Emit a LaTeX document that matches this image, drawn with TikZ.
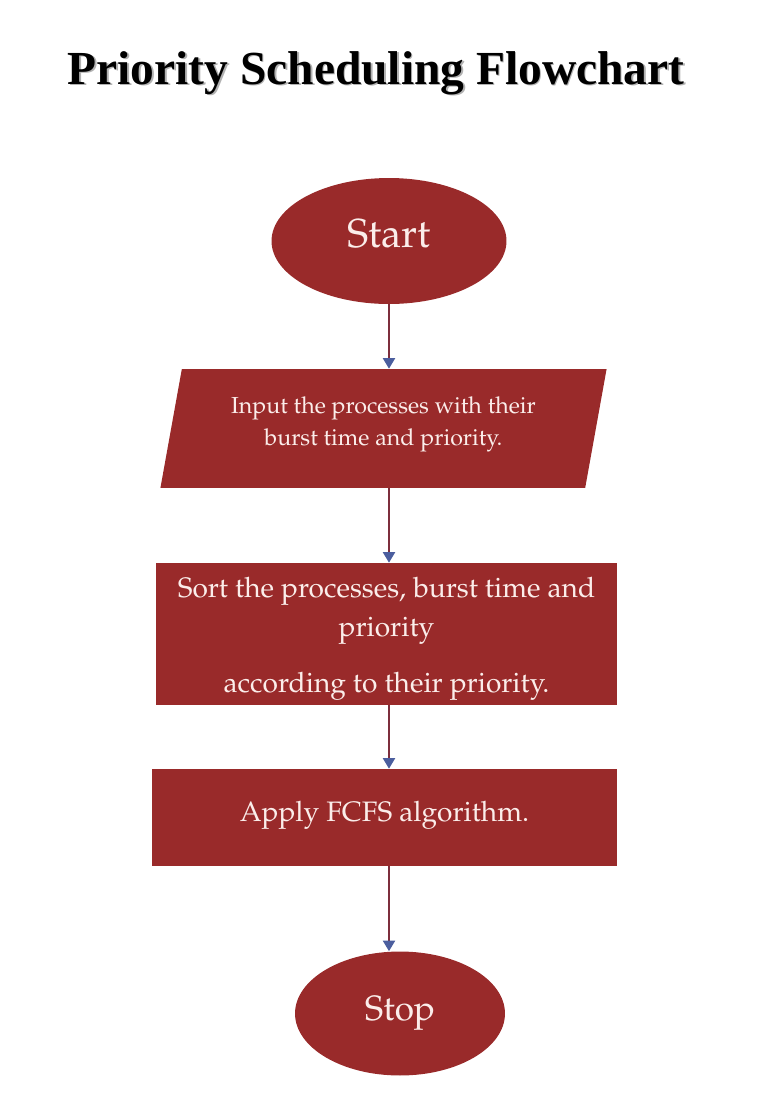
\documentclass[tikz,border=0pt]{standalone}
\usepackage[T1]{fontenc}
\usepackage{fontspec}
\setmainfont{Liberation Serif}
\usetikzlibrary{shapes.geometric,arrows.meta}

\definecolor{boxred}{HTML}{992A2A}
\definecolor{linered}{HTML}{7D2E3C}
\definecolor{tipblue}{HTML}{4B5E9E}
\definecolor{boxtext}{HTML}{FBEDEA}
\newcommand{\palafont}[1]{\fontencoding{T1}\fontfamily{ppl}\fontsize{#1}{1.4\dimexpr#1pt\relax}\selectfont}
\newcommand{\shiftlines}[2]{\raisebox{#1}[\height][\depth]{\begin{tabular}{@{}c@{}}#2\end{tabular}}}

\tikzset{
  terminal/.style={ellipse, fill=boxred, text=boxtext, inner sep=0pt,
    font=\palafont{23}},
  procbox/.style={rectangle, fill=boxred, text=boxtext, align=center,
    inner sep=0pt, font=\palafont{16}},
  iobox/.style={trapezium, trapezium left angle=76, trapezium right angle=104,
    trapezium stretches=true, fill=boxred, text=boxtext, align=center,
    inner sep=0pt, font=\palafont{13.2}},
  flow/.style={draw=linered, line width=0.7pt,
    -{Triangle[color=tipblue, length=6pt, width=7pt]}}
}

\begin{document}
\begin{tikzpicture}[x=0.02cm, y=-0.02cm]
  \useasboundingbox (0,0) rectangle (765,1100);

  % title with its shadow
  \node[text=black!30, font=\bfseries\fontsize{27}{32}\selectfont] (titleshadow) at (377.5,74.5) {Priority Scheduling Flowchart};
  \node[font=\bfseries\fontsize{27}{32}\selectfont] (title) at (376,73) {Priority Scheduling Flowchart};

  % flowchart
  \node[terminal, minimum width=4.7cm, minimum height=2.52cm] (start) at (389,241)
    {\shiftlines{2.8pt}{Start}};
  \node[iobox, minimum width=8.94cm, minimum height=2.38cm] (input) at (383.5,428.5)
    {\shiftlines{3.1pt}{Input the processes with their\\burst time and priority.}};
  \node[procbox, minimum width=9.22cm, minimum height=2.84cm] (sort) at (386.5,634)
    {\shiftlines{-1.7pt}{Sort the processes, burst time and\\priority\\[9pt]according to their priority.}};
  \node[procbox, minimum width=9.3cm, minimum height=1.94cm] (apply) at (384.5,817.5)
    {\shiftlines{2.3pt}{Apply FCFS algorithm.}};
  \node[terminal, minimum width=4.2cm, minimum height=2.48cm, font=\palafont{20}] (stop) at (400,1013.5)
    {\shiftlines{1.5pt}{Stop}};

  \draw[flow] (start) -- (start |- input.north);
  \draw[flow] (start |- input.south) -- (start |- sort.north);
  \draw[flow] (start |- sort.south) -- (start |- apply.north);
  \draw[flow] (start |- apply.south) -- (start |- stop.north);
\end{tikzpicture}
\end{document}
